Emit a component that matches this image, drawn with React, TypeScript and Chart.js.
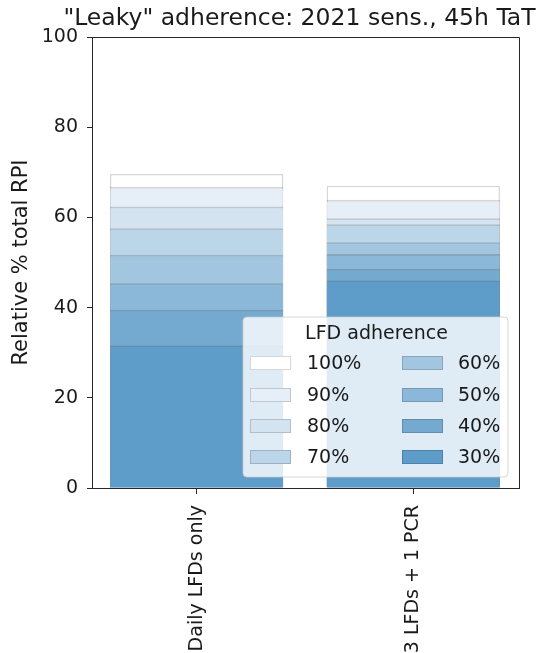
import React, { useEffect, useRef } from "react";
import { Chart, registerables } from "chart.js";

Chart.register(...registerables);

const chartTitle = '"Leaky" adherence: 2021 sens., 45h TaT';
const yAxisTitle = "Relative % total RPI";
const legendTitle = "LFD adherence";
const categories = ["Daily LFDs only", "3 LFDs + 1 PCR"];
const adherenceLevels = ["100%", "90%", "80%", "70%", "60%", "50%", "40%", "30%"];
const dailyLFDsOnly = [69.6, 66.8, 62.4, 57.6, 51.7, 45.4, 39.5, 31.6];
const lfdsPlusPCR = [67.0, 63.9, 59.8, 58.5, 54.5, 51.9, 48.6, 46.0];
const yTicks = [0, 20, 40, 60, 80, 100];

const levelColors = ["#ffffff", "#e6eef7", "#d3e3f0", "#bbd5e9", "#a3c6e0", "#8bb8d9", "#74a9d0", "#5e9cca"];
const edgeColor = "rgba(0,0,0,0.16)";
const FONT = "'DejaVu Sans', sans-serif";
const TEXT = "#1a1a1a";
const AXIS = "#262626";

const titlePlugin = {
  id: "centeredTitle",
  afterDraw(chart: any) {
    const { ctx, chartArea } = chart;
    ctx.save();
    ctx.fillStyle = TEXT;
    ctx.font = `23.5px ${FONT}`;
    ctx.textAlign = "center";
    ctx.textBaseline = "middle";
    ctx.fillText(chartTitle, (chartArea.left + chartArea.right) / 2 - 6, 19);
    ctx.restore();
  },
};

const framePlugin = {
  id: "frame",
  afterDraw(chart: any) {
    const { ctx, chartArea } = chart;
    ctx.save();
    ctx.strokeStyle = AXIS;
    ctx.lineWidth = 1;
    ctx.beginPath();
    const t = Math.round(chartArea.top) + 0.5;
    const r = Math.round(chartArea.right) + 0.5;
    ctx.moveTo(Math.round(chartArea.left), t);
    ctx.lineTo(r, t);
    ctx.lineTo(r, Math.round(chartArea.bottom));
    ctx.stroke();
    ctx.restore();
  },
};

const legendPlugin = {
  id: "customLegend",
  afterDraw(chart: any) {
    const { ctx, chartArea } = chart;
    const w = 265;
    const h = 160;
    const right = chartArea.right - 11;
    const bottom = chartArea.bottom - 11;
    const left = right - w;
    const top = bottom - h;
    ctx.save();
    const rad = 4;
    ctx.beginPath();
    ctx.moveTo(left + rad, top);
    ctx.lineTo(right - rad, top);
    ctx.arcTo(right, top, right, top + rad, rad);
    ctx.lineTo(right, bottom - rad);
    ctx.arcTo(right, bottom, right - rad, bottom, rad);
    ctx.lineTo(left + rad, bottom);
    ctx.arcTo(left, bottom, left, bottom - rad, rad);
    ctx.lineTo(left, top + rad);
    ctx.arcTo(left, top, left + rad, top, rad);
    ctx.closePath();
    ctx.fillStyle = "rgba(255,255,255,0.8)";
    ctx.fill();
    ctx.strokeStyle = "rgba(204,204,204,0.8)";
    ctx.lineWidth = 1;
    ctx.stroke();

    ctx.fillStyle = TEXT;
    ctx.textBaseline = "middle";
    ctx.textAlign = "center";
    ctx.font = `19px ${FONT}`;
    ctx.fillText(legendTitle, left + w / 2 + 1, top + 17);

    const ds = chart.data.datasets;
    const rowY = [46, 78, 109, 140];
    ds.forEach((d: any, i: number) => {
      const col = Math.floor(i / 4);
      const row = i % 4;
      const px = left + (col === 0 ? 7 : 159);
      const lx = left + (col === 0 ? 64 : 215);
      const cy = top + rowY[row];
      ctx.fillStyle = d.backgroundColor;
      ctx.fillRect(px, cy - 7, 41, 14);
      ctx.strokeStyle = edgeColor;
      ctx.lineWidth = 1;
      ctx.strokeRect(px + 0.5, cy - 6.5, 40, 13);
      ctx.fillStyle = TEXT;
      ctx.textAlign = "left";
      ctx.font = `19px ${FONT}`;
      ctx.fillText(d.label, lx, cy + 1);
    });
    ctx.restore();
  },
};

export default function App() {
  const ref = useRef<HTMLCanvasElement | null>(null);
  useEffect(() => {
    if (!ref.current) return;
    const datasets = adherenceLevels.map((lvl, i) => ({
      label: lvl,
      data: [
        { x: 0, y: dailyLFDsOnly[i] },
        { x: 1, y: lfdsPlusPCR[i] },
      ],
      backgroundColor: levelColors[i],
      borderColor: edgeColor,
      borderWidth: i === 0 ? { top: 1.5, left: 1.5, right: 1.5, bottom: 0 } : { top: 2, left: 0.6, right: 0.6, bottom: 0 },
      borderSkipped: false as any,
      grouped: false,
      order: adherenceLevels.length - i,
      barPercentage: 0.8,
      categoryPercentage: 1,
    }));
    const chart = new Chart(ref.current, {
      type: "bar",
      data: { datasets },
      options: {
        animation: false,
        responsive: false,
        devicePixelRatio: 1,
        layout: { padding: { left: 0, right: 30, top: 37, bottom: 0 } },
        plugins: {
          legend: { display: false },
          tooltip: { enabled: false },
          title: { display: false },
        },
        scales: {
          x: {
            type: "linear",
            min: -0.483,
            max: 1.488,
            offset: false,
            afterBuildTicks: (scale: any) => {
              scale.ticks = categories.map((_, i) => ({ value: i }));
            },
            grid: {
              display: true,
              offset: false,
              drawOnChartArea: false,
              drawTicks: true,
              tickLength: 6,
              color: AXIS,
            },
            border: { display: true, color: AXIS, width: 1 },
            ticks: {
              color: TEXT,
              font: { family: FONT, size: 19 },
              minRotation: 90,
              maxRotation: 90,
              padding: 11,
              autoSkip: false,
              callback: (v: any) => categories[Math.round(Number(v))] ?? "",
            },
            afterFit: (scale: any) => {
              scale.height = 165;
            },
          },
          y: {
            min: 0,
            max: 100,
            afterBuildTicks: (scale: any) => {
              scale.ticks = yTicks.map((v) => ({ value: v }));
            },
            grid: {
              display: true,
              drawOnChartArea: false,
              drawTicks: true,
              tickLength: 5,
              color: AXIS,
            },
            border: { display: true, color: AXIS, width: 1 },
            ticks: {
              color: TEXT,
              font: { family: FONT, size: 19 },
              padding: 9,
            },
            title: {
              display: true,
              text: yAxisTitle,
              color: TEXT,
              font: { family: FONT, size: 21 },
              padding: { top: 9, bottom: 0 },
            },
            afterFit: (scale: any) => {
              scale.width = 92;
            },
          },
        },
      },
      plugins: [titlePlugin, framePlugin, legendPlugin],
    });
    return () => chart.destroy();
  }, []);
  return (
    <div style={{ position: "fixed", left: 0, top: 0, width: 549, height: 653, background: "#fff" }}>
      <canvas ref={ref} width={549} height={653} style={{ display: "block" }} />
    </div>
  );
}
